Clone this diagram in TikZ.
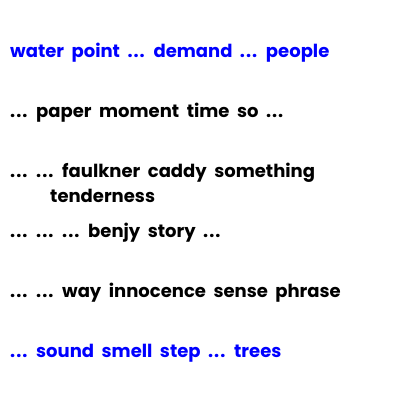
\documentclass[tikz,border=0pt]{standalone}
\usepackage{fontspec}
\setmainfont{Poppins}[BoldFont={* Bold}]
\newcommand\myfont{\fontsize{18}{25}\selectfont\bfseries\spaceskip=7.5pt plus 0pt minus 0pt\relax}
\newcommand\el{.\kern1pt.\kern1pt.}
\begin{document}
\begin{tikzpicture}[x=1pt,y=-1pt,
  txt/.style={anchor=base west,inner sep=0pt,font=\myfont},
  hl/.style={txt,text=blue}]
\useasboundingbox[fill=white] (0,0) rectangle (400,400);
\node[hl] (l1) at (10,57) {water point \el{} demand \el{} people};
\node[txt] (l2) at (10,117) {\el{} paper moment time so \el};
\node[txt] (l3) at (10,177) {\el{} \el{} faulkner caddy something};
\node[txt] (l3b) at (50,202) {tenderness};
\node[txt] (l4) at (10,237) {\el{} \el{} \el{} benjy story \el};
\node[txt] (l5) at (10,297) {\el{} \el{} way innocence sense phrase};
\node[hl] (l6) at (10,357) {\el{} sound smell step \el{} trees};
\end{tikzpicture}
\end{document}
